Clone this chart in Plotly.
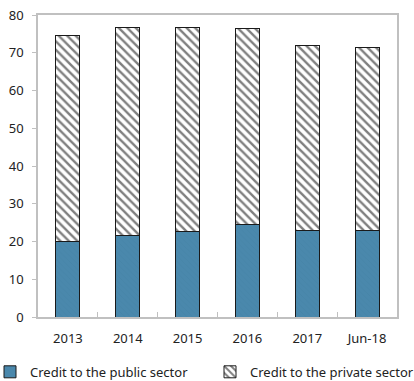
import plotly.graph_objects as go

categories = ["2013", "2014", "2015", "2016", "2017", "Jun-18"]
public_sector = [19.9, 21.5, 22.6, 24.6, 23.0, 23.0]
private_sector = [54.6, 55.1, 54.0, 51.7, 49.0, 48.3]
y_ticks = [0, 10, 20, 30, 40, 50, 60, 70, 80]

fig = go.Figure()
fig.add_trace(go.Bar(
    x=categories, y=public_sector, name="Credit to the public sector",
    legend="legend",
    marker=dict(color="#4A88AC", line=dict(color="#1a1a1a", width=1),
                pattern=dict(shape="\\", fgcolor="#427ea0", size=4, solidity=0.15)),
))
fig.add_trace(go.Bar(
    x=categories, y=private_sector, name="Credit to the private sector",
    legend="legend2",
    marker=dict(color="white", line=dict(color="#1a1a1a", width=1),
                pattern=dict(shape="\\", fgcolor="black", bgcolor="white", size=6, solidity=0.4)),
))

legend_common = dict(orientation="h", yref="container",
                     y=0.024, xanchor="left", yanchor="middle",
                     font=dict(size=13), itemwidth=30, borderwidth=0,
                     bgcolor="rgba(0,0,0,0)")

fig.update_layout(
    width=414, height=381,
    margin=dict(l=38, r=17, t=15, b=64, autoexpand=False),
    barmode="stack", bargap=0.6,
    plot_bgcolor="white", paper_bgcolor="white",
    font=dict(family="Noto Sans", size=13, color="#222222"),
    showlegend=True,
    legend=dict(xref="paper", x=-48 / 359, **legend_common),
    legend2=dict(xref="container", x=210 / 414, **legend_common),
)
fig.update_xaxes(
    type="category", showline=True, linecolor="#c0c0c0", linewidth=1.5, mirror=True,
    ticks="inside", tickson="boundaries", ticklen=5, tickcolor="#c0c0c0",
    showgrid=False, ticklabelstandoff=9,
)
fig.update_yaxes(
    range=[0, 80], tickvals=y_ticks, showline=True, linecolor="#c0c0c0", linewidth=1.5,
    mirror=True, ticks="outside", ticklen=4, tickcolor="#c0c0c0", showgrid=False,
    zeroline=False, ticklabelstandoff=6,
)

fig.write_html("out.html")
